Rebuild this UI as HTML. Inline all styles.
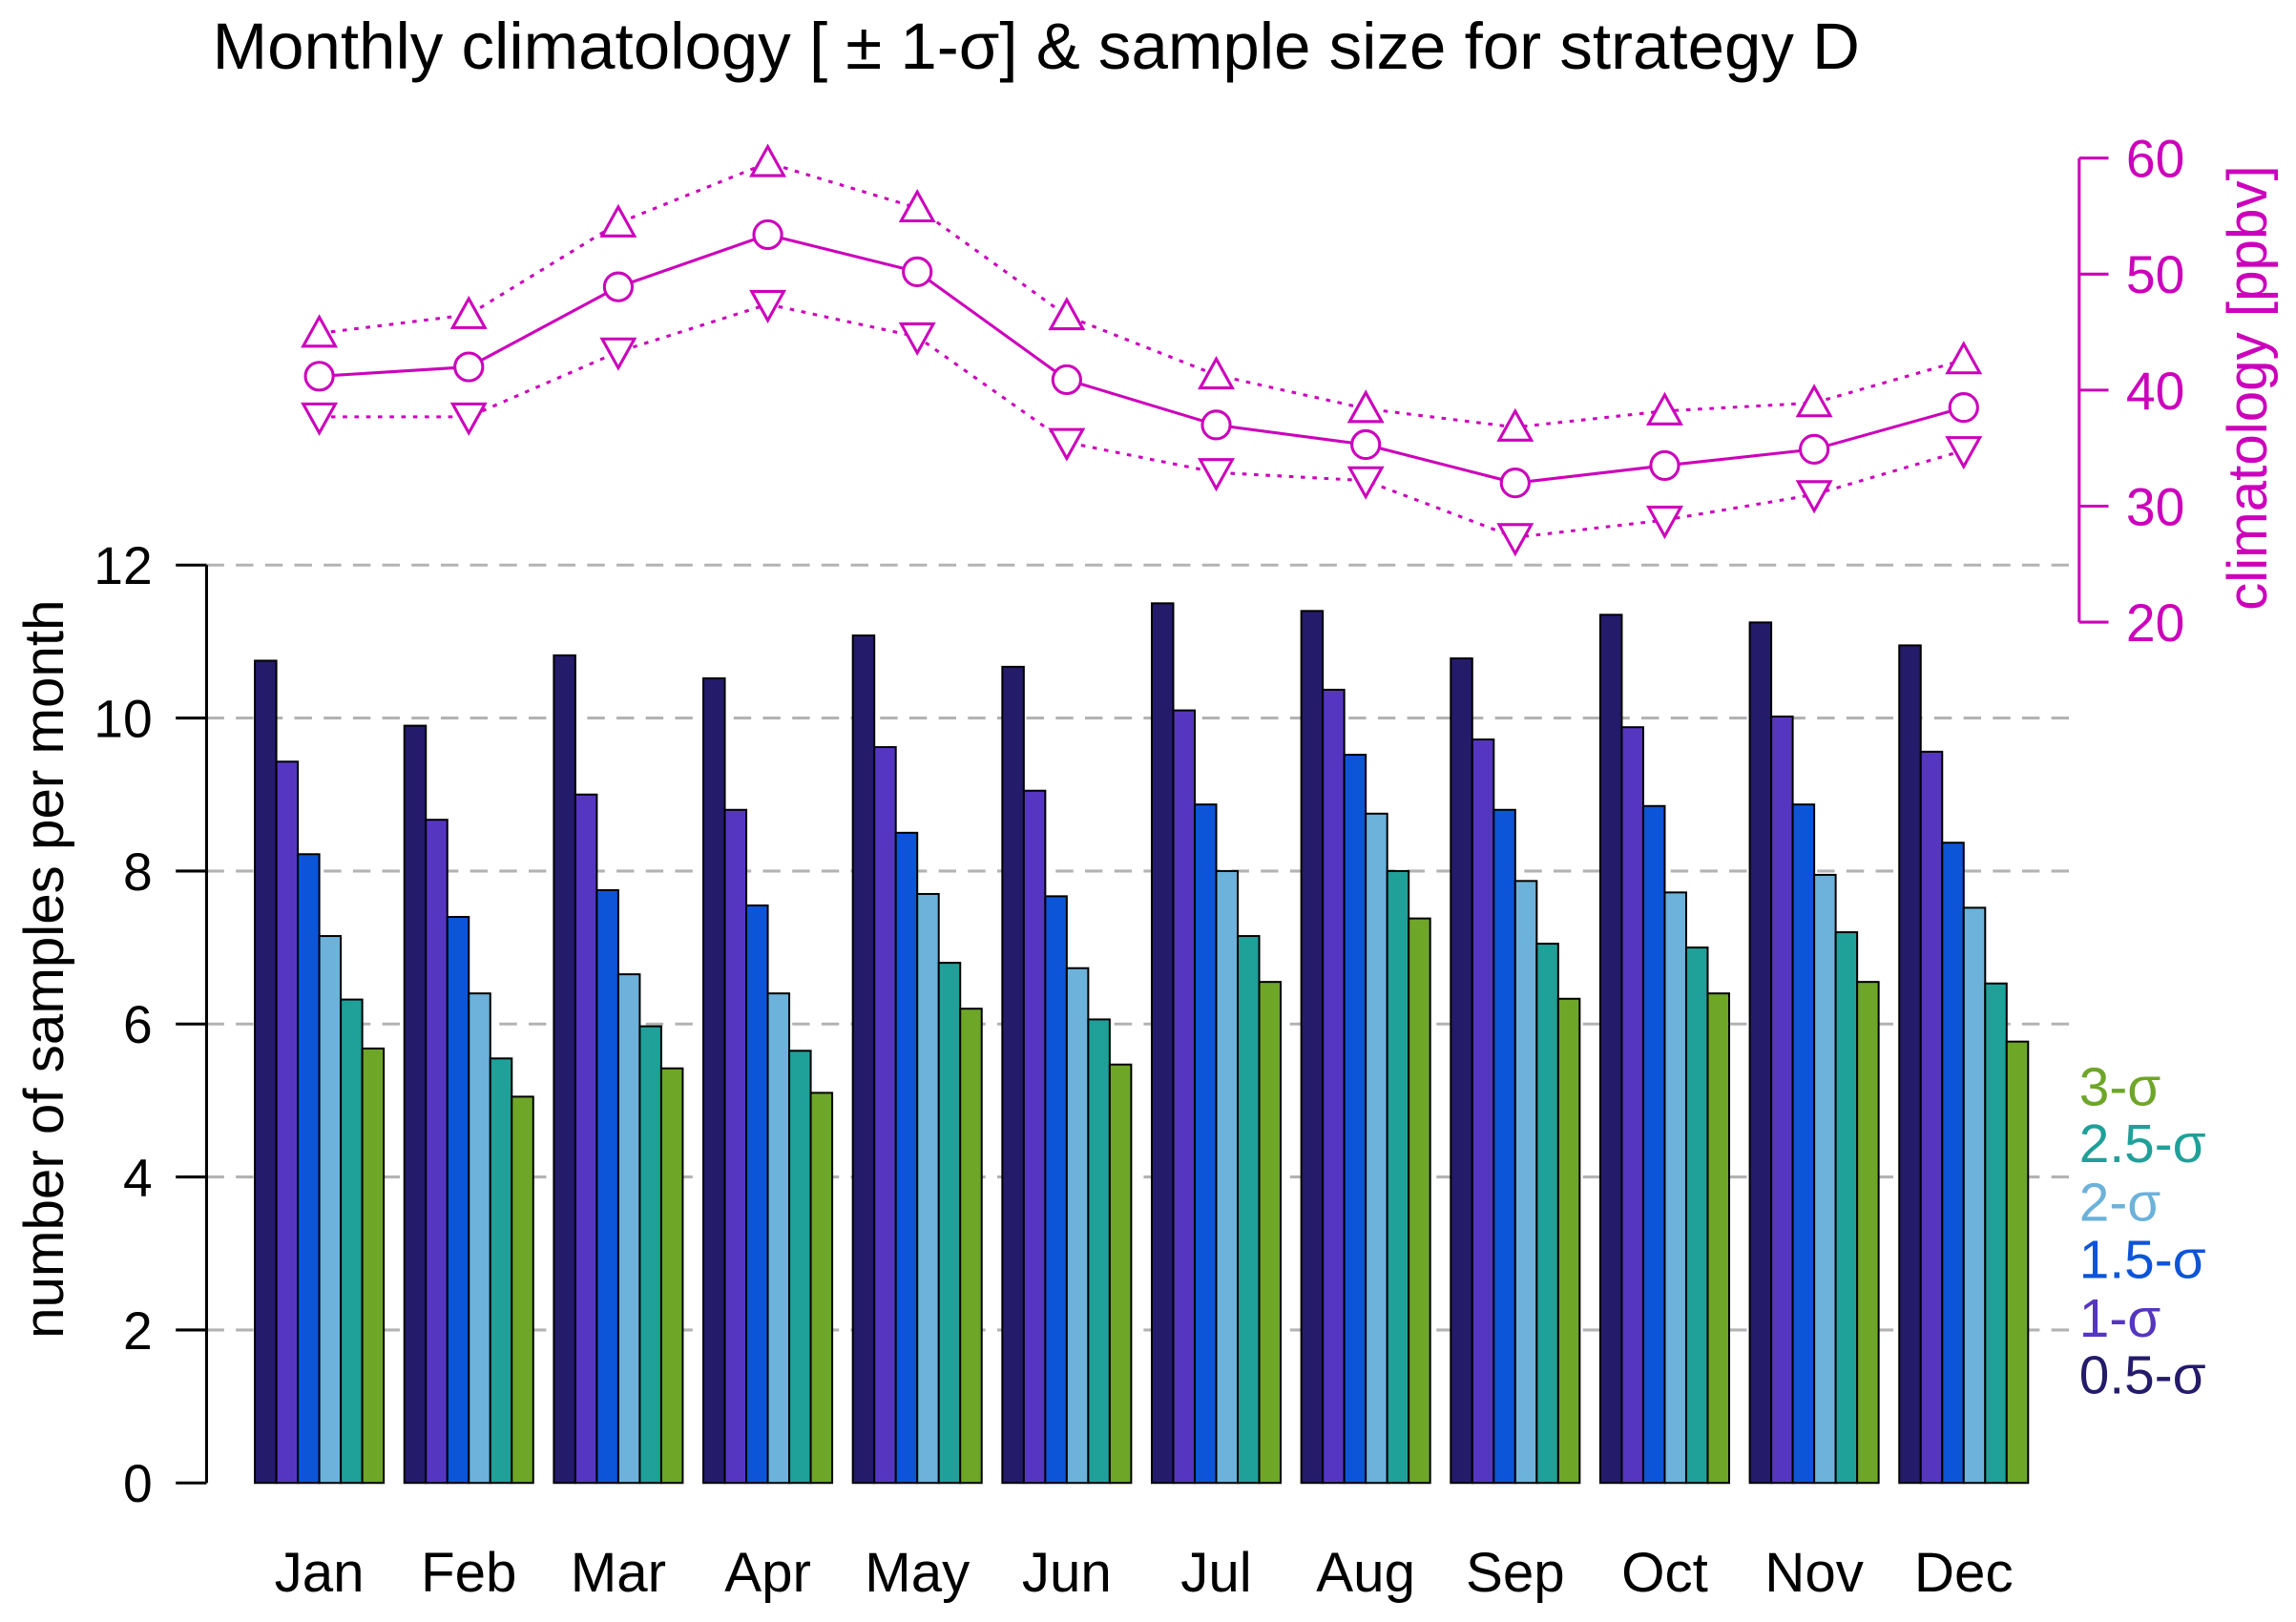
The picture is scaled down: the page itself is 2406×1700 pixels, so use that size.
<!DOCTYPE html>
<html><head><meta charset="utf-8"><style>
html,body{margin:0;padding:0;background:#fff;}
svg{display:block;font-family:"Liberation Sans",Arial,sans-serif;}
</style></head><body>
<svg id="chart" width="2406" height="1700" viewBox="0 0 1568 1108" xmlns="http://www.w3.org/2000/svg">
<text x="145" y="47" font-size="45">Monthly climatology [ ± 1-σ] &amp; sample size for strategy D</text>
<g id="grid"></g>
<g id="bars"></g>
<g id="axes"></g>
<g id="clim"></g>
<g id="legend"></g>
<text transform="translate(43,662) rotate(-90)" text-anchor="middle" font-size="38">number of samples per month</text>
<text transform="translate(1548,265) rotate(-90)" text-anchor="middle" font-size="38" fill="#cc00bb">climatology [ppbv]</text>
</svg>
<script>
const months=["Jan","Feb","Mar","Apr","May","Jun","Jul","Aug","Sep","Oct","Nov","Dec"];
const seriesNames=["0.5-σ","1-σ","1.5-σ","2-σ","2.5-σ","3-σ"];
const s05=[10.75,9.9,10.82,10.52,11.08,10.67,11.5,11.4,10.78,11.35,11.25,10.95];
const s10=[9.43,8.67,9.0,8.8,9.62,9.05,10.1,10.37,9.72,9.88,10.02,9.56];
const s15=[8.22,7.4,7.75,7.55,8.5,7.67,8.87,9.52,8.8,8.85,8.87,8.37];
const s20=[7.15,6.4,6.65,6.4,7.7,6.73,8.0,8.75,7.87,7.72,7.95,7.52];
const s25=[6.32,5.55,5.97,5.65,6.8,6.06,7.15,8.0,7.05,7.0,7.2,6.53];
const s30=[5.68,5.05,5.42,5.1,6.2,5.47,6.55,7.38,6.33,6.4,6.55,5.77];
const climMean=[41.2,42.0,48.9,53.4,50.2,40.9,37.0,35.3,32.0,33.5,34.9,38.5];
const climUpper=[44.9,46.5,54.4,59.6,55.7,46.4,41.3,38.4,36.8,38.2,38.9,42.6];
const climLower=[37.7,37.7,43.3,47.4,44.6,35.5,32.9,32.2,27.3,28.8,31.0,34.8];
const yTicks=[0,2,4,6,8,10,12];
const rTicks=[20,30,40,50,60];

const colors=["#241b6b","#5536c0","#0d55d8","#6cb2da","#1fa099","#6ea628"];
const NS="http://www.w3.org/2000/svg";
function mk(tag,attrs,parent){const e=document.createElementNS(NS,tag);for(const k in attrs)e.setAttribute(k,attrs[k]);parent.appendChild(e);return e;}
const y=v=>1013-v*(1013-386)/12;
const yr=v=>425-(v-20)*(425-108)/40;
const bw=14.67, pitch=102.1, x0=174;
const gx=i=>x0+i*pitch;
const gc=i=>gx(i)+bw*3;

const grid=document.getElementById('grid');
yTicks.forEach(t=>{if(t===0)return;
 const l=mk('line',{x1:141,x2:1420,y1:y(t),y2:y(t),stroke:'#b3b3b3','stroke-width':2,'stroke-dasharray':'12,8'},grid);
 
 
});
const bars=document.getElementById('bars');
const all=[s05,s10,s15,s20,s25,s30];
months.forEach((m,i)=>{
 all.forEach((s,j)=>{
  const r=mk('rect',{x:gx(i)+j*bw,y:y(s[i]),width:bw,height:y(0)-y(s[i]),fill:colors[j],stroke:'#000','stroke-width':1.3},bars);
  
  
 });
 const t=mk('text',{x:gc(i),y:1087,'text-anchor':'middle','font-size':38},bars);
 t.textContent=m;
 
 
});
const axes=document.getElementById('axes');
mk('line',{x1:141,x2:141,y1:y(0),y2:y(12),stroke:'#000','stroke-width':2},axes);
yTicks.forEach(t=>{
 mk('line',{x1:120,x2:141,y1:y(t),y2:y(t),stroke:'#000','stroke-width':2},axes);
 const tx=mk('text',{x:104,y:y(t)+13,'text-anchor':'end','font-size':36},axes);
 tx.textContent=t;
 
 
});
const M='#cc00bb';
mk('line',{x1:1420,x2:1420,y1:yr(20),y2:yr(60),stroke:M,'stroke-width':2},axes);
rTicks.forEach(t=>{
 mk('line',{x1:1420,x2:1440,y1:yr(t),y2:yr(t),stroke:M,'stroke-width':2},axes);
 const tx=mk('text',{x:1452,y:yr(t)+13,'font-size':36,fill:M},axes);
 tx.textContent=t;
 
 
});
const clim=document.getElementById('clim');
function line(arr,dash,name){
 const p=mk('polyline',{points:arr.map((v,i)=>gc(i)+','+yr(v)).join(' '),fill:'none',stroke:M,'stroke-width':2,'stroke-dasharray':dash},clim);
 
 
}
line(climMean,'none','climatology-mean-line');
line(climUpper,'3,5','climatology-upper-line');
line(climLower,'3,5','climatology-lower-line');
const s=11;
months.forEach((m,i)=>{
 const cx=gc(i);
 let c=mk('circle',{cx:cx,cy:yr(climMean[i]),r:9.5,fill:'#fff',stroke:M,'stroke-width':2},clim);
 
 
 let yu=yr(climUpper[i]);
 c=mk('polygon',{points:`${cx},${yu-s} ${cx-s},${yu+s*0.8} ${cx+s},${yu+s*0.8}`,fill:'#fff',stroke:M,'stroke-width':2},clim);
 
 
 let yl=yr(climLower[i]);
 c=mk('polygon',{points:`${cx},${yl+s} ${cx-s},${yl-s*0.8} ${cx+s},${yl-s*0.8}`,fill:'#fff',stroke:M,'stroke-width':2},clim);
 
 
});
const leg=document.getElementById('legend');
const ly=[940,901,861,822,782,743];
seriesNames.forEach((n,j)=>{
 const t=mk('text',{x:1420,y:ly[j]+12,'font-size':37,fill:colors[j]},leg);
 t.textContent=n;
 
 
});
</script>
</body></html>
